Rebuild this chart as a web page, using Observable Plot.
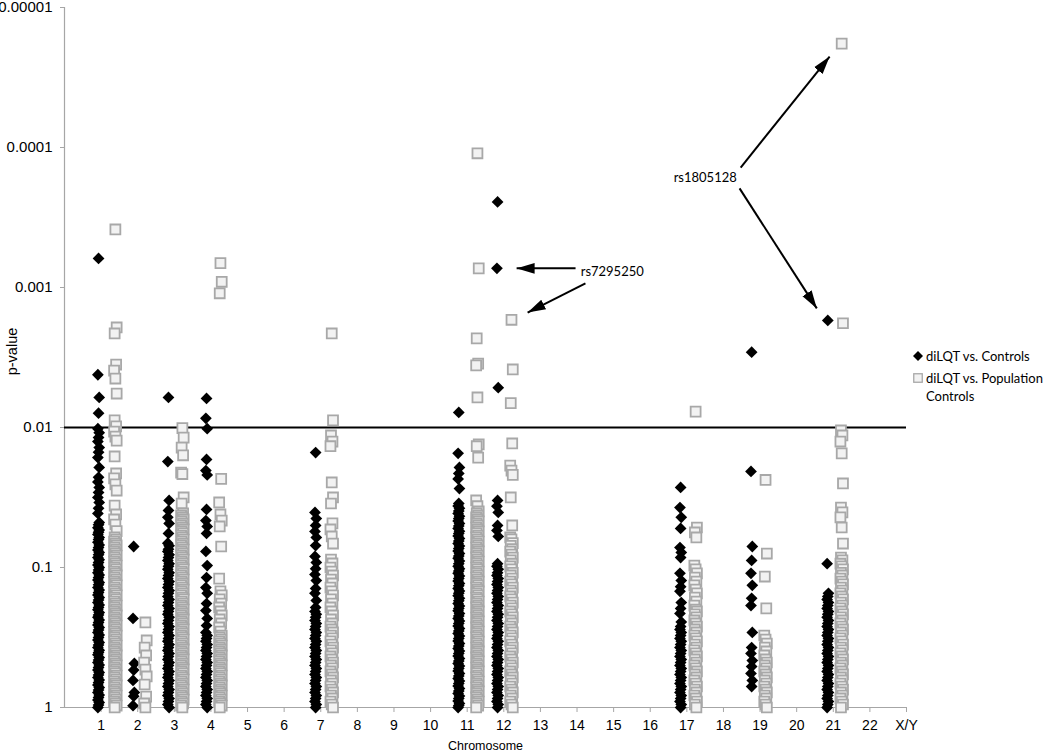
<!DOCTYPE html>
<html><head><meta charset="utf-8">
<script src="https://cdn.jsdelivr.net/npm/d3@7"></script>
<script src="https://cdn.jsdelivr.net/npm/@observablehq/plot@0.6"></script>
<style>
html,body{margin:0;padding:0;background:#fff;overflow:hidden;}
#wrap{position:relative;width:1050px;height:753px;}
.legend{position:absolute;left:913px;top:347px;font:13px Lato,sans-serif;color:#000;}
.legend .row{display:flex;align-items:flex-start;line-height:18px;margin-bottom:4px;}
.legend .row svg{flex:none;margin-top:4px;margin-right:3px;}
.legend .row span{display:block;width:130px;}
</style></head><body><div id="wrap"></div>
<script>
// Chromosome tick labels (x axis positions 1..23)
const chromosomeLabels = ["1","2","3","4","5","6","7","8","9","10","11","12","13","14","15","16","17","18","19","20","21","22","X/Y"];
const yTicks = [1, 0.1, 0.01, 0.001, 0.0001, 0.00001];
const yTickLabels = ["1","0.1","0.01","0.001","0.0001","0.00001"];
const xTitle = "Chromosome";
const yTitle = "p-value";
const seriesNames = ["diLQT vs. Controls", "diLQT vs. Population Controls"];
const threshold = 0.01;

// column positions on the chromosome axis
const blackChrom = ["1","2","3","4","7","11","12","17","19","21"];
const blackPos = [0.93, 1.89, 2.84, 3.88, 6.86, 10.77, 11.83, 16.83, 18.77, 20.85];
const grayChrom = ["1","2","3","4","7","11","12","17","19","21"];
const grayPos = [1.39, 2.21, 3.22, 4.26, 7.30, 11.28, 12.21, 17.24, 19.15, 21.23];

// diLQT vs. Controls (black diamonds), p-values
const black1 = [0.00062,0.0042,0.0061,0.0079,0.0102,0.0109,0.0118,0.0126,0.0139,0.015,0.0164,0.0193,0.0227,0.0245,0.0268,0.0291,0.0316,0.0343,0.0378,0.0411,
 0.0477,0.0495,0.052,0.054,0.056,0.058,0.061,0.063,0.066,0.069,0.072,0.075,0.078,0.081,0.085,0.088,0.092,0.096,0.1,0.104,0.109,0.113,0.118,0.123,0.128,0.133,0.139,0.145,0.151,0.157,0.164,0.171,0.178,0.185,0.193,0.2,0.21,0.218,0.227,0.237,0.247,0.257,0.268,0.28,0.291,0.303,0.316,0.33,0.343,0.358,0.373,0.39,0.405,0.42,0.44,0.458,0.477,0.497,0.518,0.54,0.562,0.585,0.61,0.635,0.663,0.69,0.72,0.75,0.781,0.815,0.848,0.885,0.92,0.96,1];
const black2 = [0.0708,0.231,0.485,0.54,0.641,0.781,0.83,0.97];
const black3 = [0.0061,0.0175,0.0332,0.0391,0.0438,0.0484,0.0571,0.067,0.07,0.074,0.077,0.081,0.085,0.089,0.094,0.098,0.103,0.109,0.114,0.12,0.126,0.132,0.139,0.146,0.153,0.161,0.169,0.178,0.187,0.196,0.206,0.216,0.227,0.239,0.251,0.264,0.277,0.291,0.306,0.321,0.337,0.355,0.373,0.391,0.411,0.432,0.454,0.477,0.501,0.526,0.553,0.581,0.61,0.641,0.674,0.708,0.744,0.781,0.821,0.862,0.906,0.952,1];
const black4 = [0.0062,0.0086,0.0102,0.0169,0.0203,0.0218,0.0385,0.0462,0.0509,0.0571,0.0768,0.0968,0.118,0.139,0.153,0.181,0.203,0.231,0.26,0.291,0.306,0.321,0.337,0.355,0.373,0.391,0.411,0.432,0.454,0.477,0.501,0.526,0.553,0.581,0.61,0.641,0.674,0.708,0.744,0.781,0.821,0.862,0.906,0.952,1];
const black7 = [0.0151,0.0404,0.0447,0.0501,0.0553,0.061,0.0697,0.0834,0.092,0.102,0.112,0.124,0.141,0.153,0.172,0.193,0.206,0.216,0.227,0.239,0.251,0.264,0.277,0.291,0.306,0.321,0.337,0.355,0.373,0.391,0.411,0.432,0.454,0.477,0.501,0.526,0.553,0.581,0.61,0.641,0.674,0.708,0.744,0.781,0.821,0.862,0.906,0.952,1];
const black11 = [0.0078,0.0153,0.0193,0.0213,0.0233,0.0273,0.0349,0.0364,0.0378,0.0395,0.0411,0.043,0.0447,0.0465,0.0484,0.0505,0.0526,0.055,0.0571,0.0595,0.062,0.0647,0.0674,0.0703,0.0732,0.0763,0.0795,0.0828,0.086,0.09,0.094,0.098,0.102,0.106,0.11,0.115,0.12,0.125,0.13,0.135,0.141,0.147,0.153,0.159,0.166,0.173,0.181,0.188,0.196,0.204,0.213,0.222,0.231,0.241,0.251,0.262,0.273,0.284,0.296,0.308,0.321,0.335,0.349,0.364,0.379,0.395,0.411,0.429,0.447,0.466,0.485,0.505,0.526,0.548,0.571,0.595,0.621,0.647,0.674,0.703,0.732,0.763,0.794,0.828,0.862,0.9,0.936,0.968,1];
const black12 = [0.000245,0.00073,0.0052,0.0332,0.0365,0.0404,0.0501,0.0544,0.06,0.094,0.098,0.103,0.109,0.114,0.12,0.126,0.132,0.139,0.146,0.153,0.161,0.169,0.178,0.187,0.196,0.206,0.216,0.227,0.239,0.251,0.264,0.277,0.291,0.306,0.321,0.337,0.355,0.373,0.391,0.411,0.432,0.454,0.477,0.501,0.526,0.553,0.581,0.61,0.641,0.674,0.708,0.744,0.781,0.821,0.862,0.906,0.952,1];
const black17 = [0.0268,0.0373,0.0438,0.0526,0.072,0.078,0.085,0.11,0.124,0.137,0.148,0.178,0.196,0.213,0.245,0.264,0.277,0.291,0.306,0.321,0.337,0.355,0.373,0.391,0.411,0.432,0.454,0.477,0.501,0.526,0.553,0.581,0.61,0.641,0.674,0.708,0.744,0.781,0.821,0.862,0.906,0.952,1];
const black19 = [0.0029,0.0206,0.0708,0.089,0.11,0.134,0.166,0.187,0.291,0.373,0.411,0.462,0.51,0.571,0.641,0.708];
const black21 = [0.00172,0.094,0.153,0.161,0.169,0.178,0.187,0.196,0.206,0.216,0.227,0.239,0.251,0.264,0.277,0.291,0.306,0.321,0.337,0.355,0.373,0.391,0.411,0.432,0.454,0.477,0.501,0.526,0.553,0.581,0.61,0.641,0.674,0.708,0.744,0.781,0.821,0.862,0.906,0.952,1];

// diLQT vs. Population Controls (gray squares), p-values
const gray1 = [0.000385,0.00193,0.00213,0.00355,0.00392,0.00447,0.00572,0.0089,0.0098,0.0107,0.0116,0.0124,0.0161,0.0213,0.0231,0.0255,0.0282,0.0361,0.0418,0.0454,0.0493,0.055,
 0.061,0.0631,0.0652,0.0674,0.0696,0.072,0.0744,0.0768,0.0794,0.0821,0.0848,0.0877,0.0906,0.0936,0.0968,0.1,0.103,0.107,0.11,0.114,0.118,0.122,0.126,0.13,0.134,0.139,0.144,0.148,0.153,0.158,0.164,0.169,0.175,0.181,0.187,0.193,0.2,0.206,0.213,0.22,0.228,0.235,0.243,0.251,0.26,0.268,0.277,0.287,0.296,0.306,0.316,0.327,0.338,0.349,0.361,0.373,0.385,0.398,0.411,0.425,0.439,0.454,0.469,0.485,0.501,0.518,0.535,0.553,0.571,0.591,0.61,0.631,0.652,0.674,0.696,0.72,0.744,0.768,0.794,0.821,0.848,0.877,0.906,0.936,0.968,1];
const gray2 = [0.247,0.332,0.373,0.425,0.477,0.536,0.6,0.685,0.835,0.936,1];
const gray3 = [0.0101,0.0118,0.0139,0.0158,0.021,0.0215,0.0316,0.0349,
 0.0411,0.0425,0.0439,0.0454,0.0469,0.0485,0.0501,0.0518,0.0535,0.0553,0.0571,0.0591,0.061,0.0631,0.0652,0.0674,0.0696,0.072,0.0744,0.0768,0.0794,0.0821,0.0848,0.0877,0.0906,0.0936,0.0968,0.1,0.103,0.107,0.11,0.114,0.118,0.122,0.126,0.13,0.134,0.139,0.144,0.148,0.153,0.158,0.164,0.169,0.175,0.181,0.187,0.193,0.2,0.206,0.213,0.22,0.228,0.235,0.243,0.251,0.26,0.268,0.277,0.287,0.296,0.306,0.316,0.327,0.338,0.349,0.361,0.373,0.385,0.398,0.411,0.425,0.439,0.454,0.469,0.485,0.501,0.518,0.535,0.553,0.571,0.591,0.61,0.631,0.652,0.674,0.696,0.72,0.744,0.768,0.794,0.821,0.848,0.877,0.906,0.936,0.968,1];
const gray4 = [0.00067,0.00091,0.0011,0.0233,0.0343,0.0418,0.0462,0.0509,0.0708,0.12,
 0.148,0.158,0.169,0.181,0.193,0.206,0.22,0.235,0.251,0.268,0.287,0.306,0.316,0.327,0.338,0.349,0.361,0.373,0.385,0.398,0.411,0.425,0.439,0.454,0.469,0.485,0.501,0.518,0.535,0.553,0.571,0.591,0.61,0.631,0.652,0.674,0.696,0.72,0.744,0.768,0.794,0.821,0.848,0.877,0.906,0.936,0.968,1];
const gray7 = [0.00213,0.0089,0.0114,0.0126,0.0136,0.0247,0.0316,0.0349,0.0484,0.0535,0.06,0.0674,
 0.0877,0.0936,0.1,0.107,0.114,0.122,0.13,0.139,0.148,0.158,0.169,0.181,0.193,0.206,0.22,0.235,0.251,0.264,0.277,0.291,0.306,0.321,0.337,0.355,0.373,0.391,0.411,0.432,0.454,0.477,0.501,0.526,0.553,0.581,0.61,0.641,0.674,0.708,0.744,0.781,0.821,0.862,0.906,0.952,1];
const gray11 = [0.00011,0.00073,0.00231,0.0035,0.0036,0.0061,0.0132,0.0136,0.0164,0.0332,0.0365,
 0.0398,0.0411,0.0425,0.0439,0.0454,0.0469,0.0485,0.0501,0.0518,0.0535,0.0553,0.0571,0.0591,0.061,0.0631,0.0652,0.0674,0.0696,0.072,0.0744,0.0768,0.0794,0.0821,0.0848,0.0877,0.0906,0.0936,0.0968,0.1,0.103,0.107,0.11,0.114,0.118,0.122,0.126,0.13,0.134,0.139,0.144,0.148,0.153,0.158,0.164,0.169,0.175,0.181,0.187,0.193,0.2,0.206,0.213,0.22,0.228,0.235,0.243,0.251,0.26,0.268,0.277,0.287,0.296,0.306,0.316,0.327,0.338,0.349,0.361,0.373,0.385,0.398,0.411,0.425,0.439,0.454,0.469,0.485,0.501,0.518,0.535,0.553,0.571,0.591,0.61,0.631,0.652,0.674,0.696,0.72,0.744,0.768,0.794,0.821,0.848,0.877,0.906,0.936,0.968,1];
const gray12 = [0.0017,0.00385,0.0067,0.013,0.0187,0.0203,0.0218,0.0316,0.0501,
 0.061,0.063,0.067,0.07,0.074,0.077,0.081,0.085,0.089,0.094,0.098,0.103,0.109,0.114,0.12,0.126,0.132,0.139,0.146,0.153,0.161,0.169,0.178,0.187,0.196,0.206,0.216,0.227,0.239,0.251,0.264,0.277,0.291,0.306,0.321,0.337,0.355,0.373,0.391,0.411,0.432,0.454,0.477,0.501,0.526,0.553,0.581,0.61,0.641,0.674,0.708,0.744,0.781,0.821,0.862,0.906,0.952,1];
const gray17 = [0.0077,0.0518,0.0562,0.061,
 0.0968,0.103,0.11,0.118,0.126,0.134,0.144,0.153,0.164,0.175,0.187,0.2,0.206,0.216,0.227,0.239,0.251,0.264,0.277,0.291,0.306,0.321,0.337,0.355,0.373,0.391,0.411,0.432,0.454,0.477,0.501,0.526,0.553,0.581,0.61,0.641,0.674,0.708,0.744,0.781,0.821,0.862,0.906,0.952,1];
const gray19 = [0.0237,0.0795,0.116,0.196,
 0.306,0.327,0.349,0.373,0.398,0.425,0.454,0.477,0.501,0.526,0.553,0.581,0.61,0.641,0.674,0.708,0.744,0.781,0.821,0.862,0.906,0.952,1];
const gray21 = [0.0000181,0.0018,0.0105,0.0114,0.0126,0.0153,0.0251,0.0373,0.0404,0.0438,0.0518,0.0674,
 0.085,0.089,0.094,0.098,0.103,0.109,0.114,0.12,0.126,0.132,0.139,0.146,0.153,0.161,0.169,0.178,0.187,0.196,0.206,0.216,0.227,0.239,0.251,0.264,0.277,0.291,0.306,0.321,0.337,0.355,0.373,0.391,0.411,0.432,0.454,0.477,0.501,0.526,0.553,0.581,0.61,0.641,0.674,0.708,0.744,0.781,0.821,0.862,0.906,0.952,1];

// annotations
const annoText = ["rs7295250", "rs1805128"];
const annoX = [14.1, 16.64];
const annoP = [0.00077, 0.000166];
const arrowX1 = [13.96, 14.23, 18.47, 18.44];
const arrowP1 = [0.00073, 0.000936, 0.000139, 0.000196];
const arrowX2 = [12.35, 12.65, 20.9, 20.55];
const arrowP2 = [0.00073, 0.00151, 0.0000224, 0.00141];

// ---- build tables ----
const blackSets = [black1,black2,black3,black4,black7,black11,black12,black17,black19,black21];
const graySets = [gray1,gray2,gray3,gray4,gray7,gray11,gray12,gray17,gray19,gray21];
const blackSpread = [0, -0.018, 0.018];
const graySpread = [0, 0.035, -0.02, 0.02, -0.035];
const blackRows = [], grayRows = [];
blackSets.forEach((vals, k) => vals.forEach((p, i) => blackRows.push({chrom: blackChrom[k], x: blackPos[k] + blackSpread[i % 3], p})));
graySets.forEach((vals, k) => vals.forEach((p, i) => grayRows.push({chrom: grayChrom[k], x: grayPos[k] + graySpread[i % 5], p})));
const annos = annoText.map((t, i) => ({t, x: annoX[i], p: annoP[i]}));
const arrows = arrowX1.map((x, i) => ({x1: x, p1: arrowP1[i], x2: arrowX2[i], p2: arrowP2[i]}));
const xTicks = chromosomeLabels.map((_, i) => i + 1);

const plot = Plot.plot({
  width: 1050, height: 753,
  marginLeft: 64, marginRight: 144, marginTop: 7, marginBottom: 46,
  style: {fontFamily: "'Liberation Sans', Arial, sans-serif", fontSize: "14px", color: "#000", background: "#fff", overflow: "visible"},
  x: {domain: [0, 23]},
  y: {type: "log", domain: [1, 0.00001]},
  marks: [
    Plot.ruleX([0], {stroke: "#a6a6a6", strokeWidth: 1.2}),
    Plot.ruleY([1], {stroke: "#a6a6a6", strokeWidth: 1.2}),
    Plot.axisX(xTicks, {tickFormat: d => chromosomeLabels[d - 1], tickSize: 5, tickPadding: 8, stroke: "#a6a6a6", fill: "#000", fontSize: 14, label: null}),
    Plot.axisY(yTicks, {tickFormat: d => yTickLabels[yTicks.indexOf(d)], tickSize: 4, tickPadding: 8, stroke: "#a6a6a6", fill: "#000", fontSize: 15, label: null}),
    Plot.text([xTitle], {frameAnchor: "bottom", dy: 38, lineAnchor: "middle", textAnchor: "middle", text: d => d, fontSize: 12.5, fill: "#000"}),
    Plot.text([yTitle], {frameAnchor: "left", dx: -52, dy: -6, rotate: -90, textAnchor: "middle", lineAnchor: "middle", text: d => d, fontSize: 14.5, fill: "#000"}),
    Plot.ruleY([threshold], {stroke: "#000", strokeWidth: 2}),
    Plot.dot(blackRows, {x: "x", y: "p", symbol: "diamond2", r: 5.3, fill: "#000", stroke: "none"}),
    Plot.dot(grayRows, {x: "x", y: "p", symbol: "square", r: 5.6, fill: "#f2f2f2", stroke: "#a8a8a8", strokeWidth: 1.8}),
    Plot.link(arrows, {x1: "x1", y1: "p1", x2: "x2", y2: "p2", stroke: "#000", strokeWidth: 2}),
    Plot.text(annos, {x: "x", y: "p", text: "t", textAnchor: "start", fontFamily: "Lato, sans-serif", fontSize: 13, fill: "#000"})
  ]
});

// filled arrowheads for the annotation links
const svg = d3.select(plot);
const marker = svg.append("defs").append("marker")
  .attr("id", "ahead").attr("viewBox", "0 -5 10 10").attr("refX", 10).attr("refY", 0)
  .attr("markerWidth", 9).attr("markerHeight", 9).attr("orient", "auto").attr("markerUnits", "strokeWidth");
marker.append("path").attr("d", "M0,-3L10,0L0,3Z").attr("fill", "#000");
svg.selectAll('g[aria-label="link"] path').attr("marker-end", "url(#ahead)");

const wrap = document.getElementById("wrap");
wrap.appendChild(plot);

// legend
const legend = document.createElement("div");
legend.className = "legend";
const icons = [
  '<svg width="10" height="10" viewBox="0 0 10 10"><path d="M5,0L10,5L5,10L0,5Z" fill="#000"/></svg>',
  '<svg width="10" height="10" viewBox="0 0 10 10"><rect x="0.75" y="0.75" width="8.5" height="8.5" fill="#f2f2f2" stroke="#a8a8a8" stroke-width="1.3"/></svg>'
];
seriesNames.forEach((name, i) => {
  const row = document.createElement("div");
  row.className = "row";
  row.innerHTML = icons[i];
  const span = document.createElement("span");
  span.textContent = name;
  row.appendChild(span);
  legend.appendChild(row);
});
wrap.appendChild(legend);
</script>
</body></html>
